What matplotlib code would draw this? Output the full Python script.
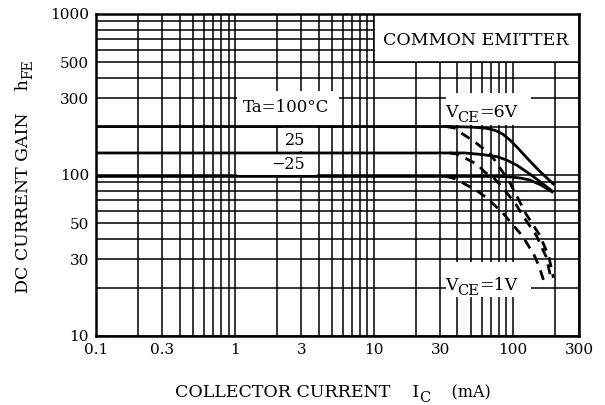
import matplotlib
matplotlib.use("Agg")
import matplotlib.pyplot as plt
import matplotlib.ticker as mticker
from matplotlib.patches import Rectangle

plt.rcParams['font.family'] = ['DejaVu Serif']

# VCE = 6V (solid)
ic_100c_6v = [0.1, 35, 50, 65, 75, 85, 96, 108, 119, 134, 149, 170, 196]
hfe_100c_6v = [200, 200, 198.5, 195, 189, 179, 164, 148, 135, 121, 110, 98.5, 88]
ic_25c_6v = [0.1, 45, 60, 77, 90, 107, 125, 141, 165, 188]
hfe_25c_6v = [137, 137, 134, 130, 124, 115, 105, 97.6, 88, 80.5]
ic_m25c_6v = [0.1, 80, 100, 115, 133, 160, 192]
hfe_m25c_6v = [98, 98, 97, 95.5, 93, 86.5, 78.5]

# VCE = 1V (dashed)
ic_100c_1v = [33, 38, 43, 52, 60, 70, 95, 125, 157, 182, 196]
hfe_100c_1v = [200, 196, 181, 163, 148, 133, 90, 57, 42, 31, 23]
ic_25c_1v = [35, 40, 44, 56, 63, 73, 88, 105, 118, 148, 174, 188]
hfe_25c_1v = [137, 135, 129, 116, 104, 96, 80, 66, 56, 42, 31, 23]
ic_m25c_1v = [33, 38, 44, 55, 65, 85, 100, 117, 142, 155, 167]
hfe_m25c_1v = [98, 95, 89, 80, 72, 58, 49, 42, 32, 27, 22]

x_ticks = [0.1, 0.3, 1, 3, 10, 30, 100, 300]
x_labels = ['0.1', '0.3', '1', '3', '10', '30', '100', '300']
y_ticks = [10, 30, 50, 100, 300, 500, 1000]
y_labels = ['10', '30', '50', '100', '300', '500', '1000']

W, H = 605, 405
fig = plt.figure(figsize=(W / 100, H / 100), dpi=100)
ax = fig.add_axes([0.1587, 0.1704, 0.7984, 0.7951])
ax.set_xscale('log')
ax.set_yscale('log')
ax.set_xlim(0.1, 300)
ax.set_ylim(10, 1000)

ax.xaxis.set_major_locator(mticker.FixedLocator(x_ticks))
ax.xaxis.set_major_formatter(mticker.FixedFormatter(x_labels))
ax.xaxis.set_minor_locator(mticker.LogLocator(base=10, subs=range(1, 10), numticks=20))
ax.xaxis.set_minor_formatter(mticker.NullFormatter())
ax.yaxis.set_major_locator(mticker.FixedLocator(y_ticks))
ax.yaxis.set_major_formatter(mticker.FixedFormatter(y_labels))
ax.yaxis.set_minor_locator(mticker.LogLocator(base=10, subs=range(1, 10), numticks=20))
ax.yaxis.set_minor_formatter(mticker.NullFormatter())
ax.tick_params(which='both', length=0, labelsize=11, pad=5)
ax.set_axisbelow(True)
ax.grid(which='both', color='black', linewidth=1.1)
for s in ax.spines.values():
    s.set_linewidth(1.8)

# white label areas that cut the grid
ax.add_patch(Rectangle((10, 500), 290, 500, fc='white', ec='black', lw=1.1, zorder=1))
ax.add_patch(Rectangle((1.03, 205), 4.6, 125, fc='white', ec='none', zorder=1))
ax.add_patch(Rectangle((2.2, 140), 1.7, 60, fc='white', ec='none', zorder=1))
ax.add_patch(Rectangle((1.03, 100), 2.87, 38, fc='white', ec='none', zorder=1))
ax.add_patch(Rectangle((33, 205), 102, 120, fc='white', ec='none', zorder=1))
ax.add_patch(Rectangle((33, 17.5), 102, 11.3, fc='white', ec='none', zorder=1))

lw = 2.0
dash = (0, (3.6, 2.6))
ax.plot(ic_100c_6v, hfe_100c_6v, color='black', lw=lw, zorder=3)
ax.plot(ic_25c_6v, hfe_25c_6v, color='black', lw=lw, zorder=3)
ax.plot(ic_m25c_6v, hfe_m25c_6v, color='black', lw=lw, zorder=3)
ax.plot(ic_100c_1v, hfe_100c_1v, color='black', lw=lw, ls=dash, zorder=3)
ax.plot(ic_25c_1v, hfe_25c_1v, color='black', lw=lw, ls=dash, zorder=3)
ax.plot(ic_m25c_1v, hfe_m25c_1v, color='black', lw=lw, ls=dash, zorder=3)

ax.text(0.787, 0.918, 'COMMON EMITTER', transform=ax.transAxes, fontsize=12.5,
        ha='center', va='center', zorder=4)
ax.text(2.35, 262, 'Ta=100°C', fontsize=12, ha='center', va='center', zorder=4)
ax.text(2.72, 164, '25', fontsize=11.5, ha='center', va='center', zorder=4)
ax.text(2.4, 117, '−25', fontsize=11.5, ha='center', va='center', zorder=4)

fig.canvas.draw()
renderer = fig.canvas.get_renderer()


def pieces(x, y, parts, rotation=0):
    # x, y in image pixels (top-left origin); parts: (text, size, drop in px)
    for txt, size, drop in parts:
        if rotation == 0:
            px, py = x, y + drop
        else:
            px, py = x + drop, y
        t = fig.text(px / W, 1 - py / H, txt, fontsize=size, rotation=rotation,
                     rotation_mode='anchor', ha='left', va='baseline', zorder=5)
        bb = t.get_window_extent(renderer)
        if rotation == 0:
            x += bb.width
        else:
            y -= bb.height


pieces(445, 117, [('V', 12.5, 0), ('CE', 10.5, 5), ('=6V', 12.5, 0)])
pieces(445, 290, [('V', 12.5, 0), ('CE', 10.5, 5), ('=1V', 12.5, 0)])
pieces(175, 397, [('COLLECTOR CURRENT    I', 12.5, 0), ('C', 10.5, 5), ('    (mA)', 11.5, 0)])
pieces(28, 293, [('DC CURRENT GAIN    h', 12.5, 0), ('FE', 10, 4)], rotation=90)

fig.savefig('out.png', dpi=100)
